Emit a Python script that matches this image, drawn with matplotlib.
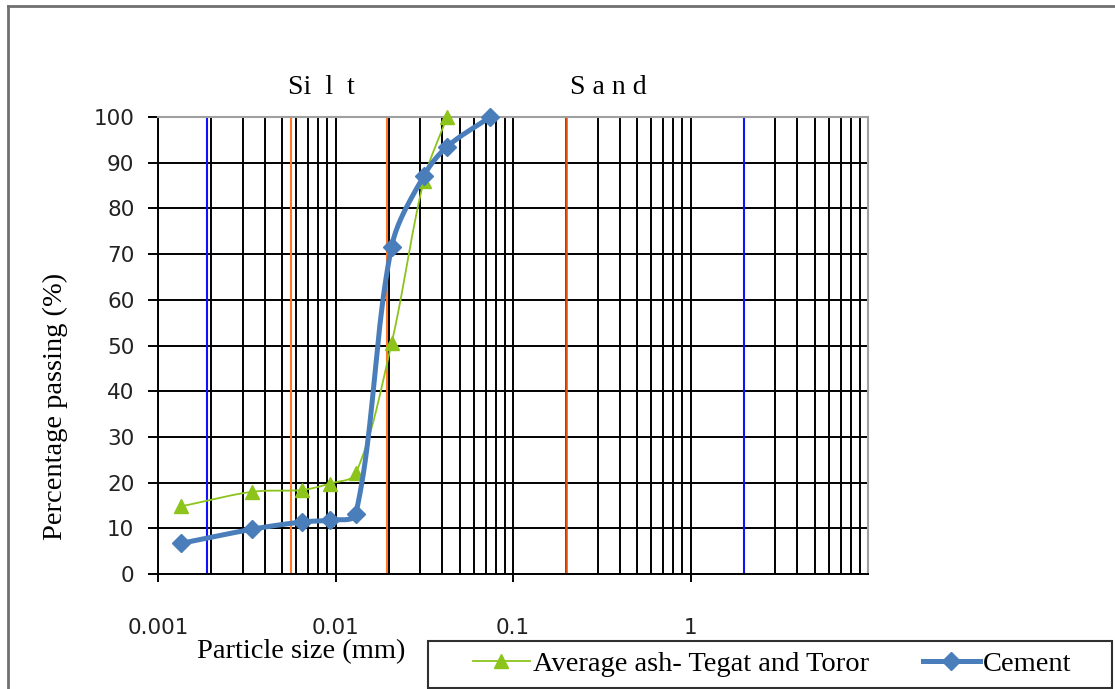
import numpy as np
import matplotlib
matplotlib.use('Agg')
import matplotlib.pyplot as plt
from matplotlib.ticker import LogLocator, FixedLocator, NullFormatter
from matplotlib.lines import Line2D
from matplotlib.patches import Rectangle

# data
size_ash = [0.00135, 0.0034, 0.0065, 0.0093, 0.013, 0.0207, 0.0314, 0.0425]
pass_ash = [14.8, 18.0, 18.4, 19.8, 22.0, 50.5, 86.0, 100.0]
size_cem = [0.00135, 0.0034, 0.0065, 0.0093, 0.013, 0.0207, 0.0314, 0.0425, 0.0745]
pass_cem = [6.7, 9.8, 11.4, 11.8, 13.1, 71.6, 87.1, 93.5, 100.0]
xticks = [0.001, 0.01, 0.1, 1]
xticklabels = ['0.001', '0.01', '0.1', '1']
blue_lines = [0.0019, 2.0]
orange_lines = [0.0056, 0.0194]
red_lines = [0.2]

serif = ['Liberation Serif', 'DejaVu Serif']
sans = ['DejaVu Sans']

W, H = 1115, 689
fig = plt.figure(figsize=(W / 100, H / 100), dpi=100)
ax = fig.add_axes([158 / W, 1 - 574 / H, (868 - 158) / W, (574 - 117) / H])


def smooth(xs, ys, n=25):
    # excel style smoothed line, bezier done in screen-like units
    ku, kv = 177.9, 4.57
    p = np.column_stack([np.log10(xs) * ku, np.asarray(ys, float) * kv])
    out = [p[0]]
    for i in range(len(p) - 1):
        p0 = p[i - 1] if i > 0 else p[i]
        p1, p2 = p[i], p[i + 1]
        p3 = p[i + 2] if i + 2 < len(p) else p[i + 1]
        d01 = np.hypot(*(p1 - p0))
        d12 = np.hypot(*(p2 - p1))
        d23 = np.hypot(*(p3 - p2))
        c1 = p1 + (p2 - p0) * (d12 / (d01 + d12 + 1e-9)) / 3 if i > 0 else p1 + (p2 - p1) / 3
        c2 = p2 - (p3 - p1) * (d12 / (d12 + d23 + 1e-9)) / 3 if i + 2 < len(p) else p2 - (p2 - p1) / 3
        t = np.linspace(0, 1, n)[1:, None]
        seg = (1 - t) ** 3 * p1 + 3 * (1 - t) ** 2 * t * c1 + 3 * (1 - t) * t ** 2 * c2 + t ** 3 * p2
        out.extend(seg)
    out = np.array(out)
    return 10 ** (out[:, 0] / ku), out[:, 1] / kv


ax.set_xscale('log')
ax.set_xlim(0.001, 10)
ax.set_ylim(0, 100)

ax.xaxis.set_major_locator(FixedLocator(xticks))
ax.set_xticklabels(xticklabels)
ax.xaxis.set_minor_locator(LogLocator(base=10, subs=np.arange(2, 10), numticks=20))
ax.xaxis.set_minor_formatter(NullFormatter())
ax.set_yticks(np.arange(0, 101, 10))

ax.grid(True, which='both', axis='x', color='black', lw=1.4)
ax.grid(True, which='major', axis='y', color='black', lw=1.4)
ax.set_axisbelow(True)

ax.tick_params(axis='x', which='major', direction='out', length=6, width=1.4, pad=26, labelsize=15.5)
ax.tick_params(axis='x', which='minor', length=0)
ax.tick_params(axis='y', direction='out', length=7, width=1.4, pad=10, labelsize=15.5)
for lab in ax.get_xticklabels() + ax.get_yticklabels():
    lab.set_family(sans)
    lab.set_color('#222222')

for s in ['top', 'right']:
    ax.spines[s].set_color('#a0a0a0')
    ax.spines[s].set_linewidth(1.5)
for s in ['left', 'bottom']:
    ax.spines[s].set_color('black')
    ax.spines[s].set_linewidth(1.4)

for v in blue_lines:
    ax.axvline(v, color='#1010ff', lw=1.5, zorder=2)
for v in orange_lines:
    ax.axvline(v, color='#ff7828', lw=1.5, zorder=2)
for v in red_lines:
    ax.axvline(v, color='#e05010', lw=1.8, zorder=2)

green = '#8cc41c'
blue = '#4a7ebb'
sx, sy = smooth(size_ash, pass_ash)
ax.plot(sx, sy, color=green, lw=1.3, zorder=3, clip_on=False)
ax.plot(size_ash, pass_ash, ls='none', marker='^', ms=10, color=green, zorder=3, clip_on=False)
sx, sy = smooth(size_cem, pass_cem)
ax.plot(sx, sy, color=blue, lw=3.6, zorder=4, clip_on=False, solid_capstyle='round')
ax.plot(size_cem, pass_cem, ls='none', marker='D', ms=9, color=blue, zorder=4, clip_on=False)

fig.text(55 / W, 1 - 406 / H, 'Percentage passing (%)', rotation=90, ha='center', va='center',
         family=serif, fontsize=20.5)
fig.text(301 / W, 1 - 652 / H, 'Particle size (mm)', ha='center', va='center', family=serif, fontsize=20.5)
fig.text(321 / W, 1 - 88 / H, 'Si  l  t', ha='center', va='center', family=serif, fontsize=20)
fig.text(608 / W, 1 - 88 / H, 'S a n d', ha='center', va='center', family=serif, fontsize=20)

# outer chart frame (left and top edges visible)
fig.add_artist(Line2D([8 / W, 8 / W], [0, 1 - 6 / H], transform=fig.transFigure, color='#707070', lw=2))
fig.add_artist(Line2D([8 / W, 1], [1 - 6 / H, 1 - 6 / H], transform=fig.transFigure, color='#707070', lw=2))

# legend frame
fig.add_artist(Rectangle((428 / W, 1 - 688 / H), (1112 - 428) / W, (688 - 641) / H,
                         transform=fig.transFigure, fill=False, ec='#303030', lw=1.5))
handles = [Line2D([], [], color=green, lw=1.3, marker='^', ms=10),
           Line2D([], [], color=blue, lw=3.6, marker='D', ms=9)]
fig.legend(handles, ['Average ash- Tegat and Toror', 'Cement'], loc='center',
           bbox_to_anchor=(772 / W, 1 - 664 / H), ncol=2, frameon=False,
           prop={'family': serif, 'size': 20.5}, handlelength=2.0, handletextpad=0.1,
           columnspacing=1.9, borderpad=0)

fig.savefig('out.png', dpi=100)
